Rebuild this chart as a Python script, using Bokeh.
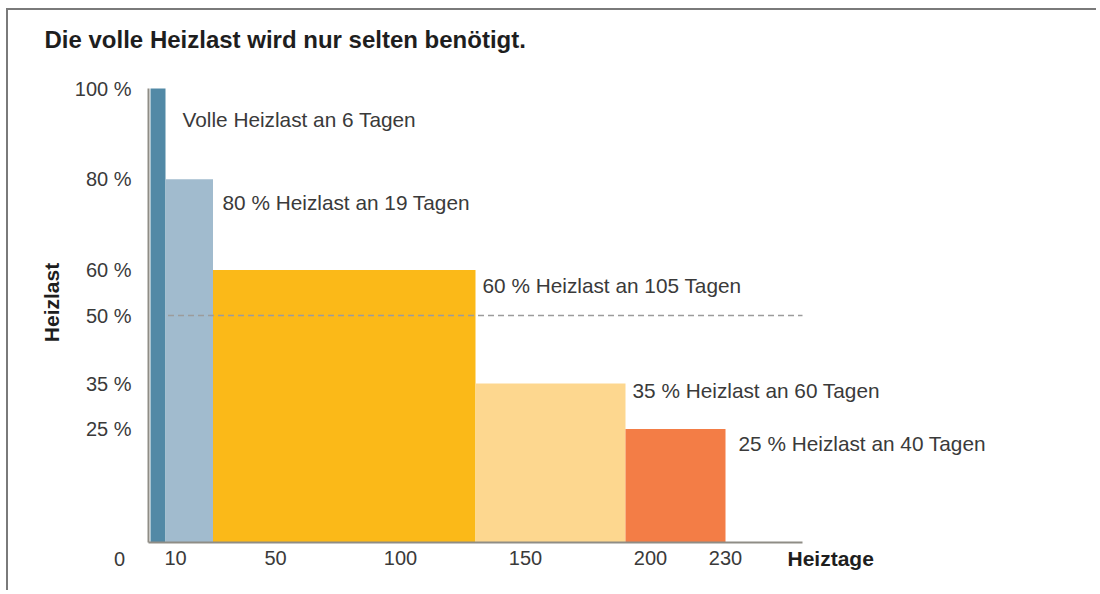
import numpy as np
from bokeh.plotting import figure
from bokeh.models import Range1d, FixedTicker
from bokeh.embed import file_html
from bokeh.resources import INLINE
from bokeh.core.properties import value

# ---- data ----
days = [6, 19, 105, 60, 40]
load = [100, 80, 60, 35, 25]
colors = ["#5289A6", "#A1BBCE", "#FBB918", "#FDD78F", "#F37D46"]
bar_labels = [
    "Volle Heizlast an 6 Tagen",
    "80 % Heizlast an 19 Tagen",
    "60 % Heizlast an 105 Tagen",
    "35 % Heizlast an 60 Tagen",
    "25 % Heizlast an 40 Tagen",
]
x_ticks = [10, 50, 100, 150, 200, 230]
y_ticks = [25, 35, 50, 60, 80, 100]
threshold = 50
title_text = "Die volle Heizlast wird nur selten benötigt."
x_title = "Heiztage"
y_title = "Heizlast"
origin_label = "0"

right = np.cumsum(days)
left = right - np.array(days)

FONT = "Liberation Sans"
TXT = "#3a3a3a"
DARK = "#1e1e1e"
AX = "#8f8d86"

X0, X1 = -0.8, 260.8      # extent of the day axis
Y_TOP = 105.73

p = figure(width=1090, height=582, output_backend="svg", toolbar_location=None,
           x_range=Range1d(-56.8, 379.2), y_range=Range1d(-11.01, Y_TOP),
           min_border_left=0, min_border_right=0, min_border_top=52,
           min_border_bottom=0)
p.styles = {"margin-left": "6px", "margin-top": "8px",
            "border-left": "2px solid #7a7a7a", "border-top": "2px solid #7a7a7a"}
p.outline_line_color = None
p.xgrid.visible = False
p.ygrid.visible = False
p.background_fill_color = "white"
p.border_fill_color = "white"

# title
p.title.text = title_text
p.title.align = "left"
p.title.offset = 36
p.title.text_font = FONT
p.title.text_font_size = "24px"
p.title.text_font_style = "bold"
p.title.text_color = DARK
p.title.standoff = 20

# bars
p.quad(left=left, right=right, bottom=0, top=load, fill_color=colors, line_color=None)

# dashed 50 % line
p.segment(x0=right[0] + 1, y0=threshold, x1=X1, y1=threshold,
          line_color="#9c9c9c", line_width=1.5, line_dash="6 4")

# y axis line (drawn up to 100 %)
p.segment(x0=X0, y0=0, x1=X0, y1=max(load), line_color=AX, line_width=2)

# bar labels
p.text(x=right, y=load, text=bar_labels,
       x_offset=[17, 9.5, 7, 7, 13], y_offset=[31, 23, 15.5, 6.5, 14],
       text_baseline="middle", text_align="left",
       text_font=value(FONT), text_font_size="20.8px", text_color=TXT)

# axes (fixed inside the frame)
xa = p.xaxis[0]
xa.fixed_location = 0
xa.bounds = (X0, X1)
xa.ticker = FixedTicker(ticks=x_ticks)
xa.axis_line_color = AX
xa.axis_line_width = 2
xa.major_tick_line_color = None
xa.major_tick_out = 0
xa.major_tick_in = 0
xa.minor_tick_line_color = None
xa.major_label_text_font = FONT
xa.major_label_text_font_size = "20px"
xa.major_label_text_color = TXT
xa.major_label_standoff = 8

ya = p.yaxis[0]
ya.fixed_location = X0
ya.bounds = (0, Y_TOP)
ya.ticker = FixedTicker(ticks=y_ticks)
ya.major_label_overrides = {t: f"{t} %" for t in y_ticks}
ya.axis_line_color = None
ya.major_tick_line_color = None
ya.major_tick_out = 0
ya.major_tick_in = 0
ya.minor_tick_line_color = None
ya.major_label_text_font = FONT
ya.major_label_text_font_size = "20px"
ya.major_label_text_color = TXT
ya.major_label_standoff = 17
ya.axis_label = y_title
ya.axis_label_text_font = FONT
ya.axis_label_text_font_size = "21px"
ya.axis_label_text_font_style = "bold"
ya.axis_label_text_color = DARK
ya.axis_label_standoff = 9

# origin "0" and x axis title on the tick-label row
p.text(x=[-12.4], y=[0], text=[origin_label], y_offset=16, text_align="center",
       text_baseline="middle", text_font=value(FONT), text_font_size="20px",
       text_color=TXT)
p.text(x=[254.8], y=[0], text=[x_title], y_offset=16, text_align="left",
       text_baseline="middle", text_font=value(FONT), text_font_size="21px",
       text_font_style="bold", text_color=DARK)

open("out.html", "w").write(file_html(p, INLINE))
